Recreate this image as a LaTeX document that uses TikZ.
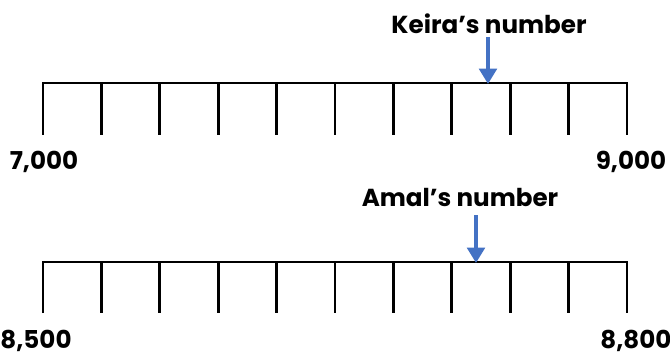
\documentclass[tikz,border=0pt]{standalone}
\usepackage{fontspec}
\setmainfont{Poppins}
\usetikzlibrary{positioning}
\usetikzlibrary{arrows.meta}
\definecolor{markblue}{RGB}{68,114,196}

\tikzset{
  numline/.style={black, line width=1.9pt, line join=miter},
  numlabel/.style={font=\fontsize{17.5}{21}\selectfont\bfseries, inner sep=0pt},
  marker/.style={markblue, line width=3pt, -{Triangle[length=11pt,width=12.5pt]}}
}

\begin{document}
\begin{tikzpicture}[x=0.025cm,y=-0.025cm]
\useasboundingbox (0,0) rectangle (670,354);

% Keira's line
\begin{scope}[shift={(0,0)}]
\draw[numline] (43,135) -- (43,83) -- (627,83) -- (627,135);
\foreach \i in {1,...,9}
  \draw[numline] (43+58.4*\i,83) -- ++(0,52);

\node[numlabel] (kleft) at (44,162) {7,000};
\node[numlabel] (kright) at (631,162) {9,000};

\node[numlabel] (keira) at (489,24) {Keira’s number};
\coordinate (ktop) at (488,37);
\coordinate (ktip) at (488,84);
\draw[marker] (ktop) -- (ktip);
\end{scope}

% Amal's line
\begin{scope}[shift={(0,180)}]
\draw[numline] (43,133) -- (43,82) -- (627,82) -- (627,133);
\foreach \i in {1,...,9}
  \draw[numline] (43+58.4*\i,82) -- ++(0,51);

\node[numlabel] (aleft) at (36,161) {8,500};
\node[numlabel] (aright) at (636,161) {8,800};

\node[numlabel] (amal) at (460,17) {Amal’s number};
\coordinate (atop) at (476,35);
\coordinate (atip) at (476,83);
\draw[marker] (atop) -- (atip);
\end{scope}
\end{tikzpicture}
\end{document}
